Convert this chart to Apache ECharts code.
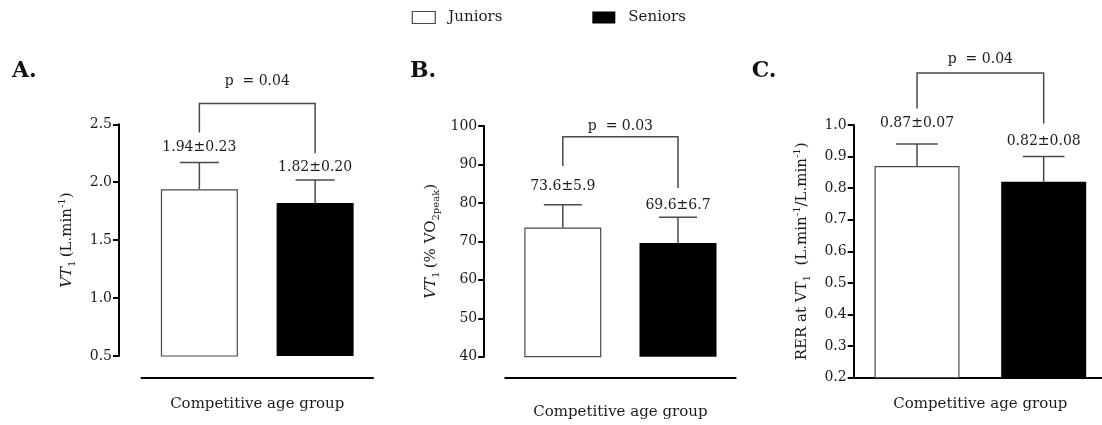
<!DOCTYPE html>
<html><head><meta charset="utf-8">
<script src="https://cdn.jsdelivr.net/npm/echarts@6/dist/echarts.min.js"></script>
<style>html,body{margin:0;padding:0;background:#fff}#c{width:1102px;height:425px}</style>
</head><body><div id="c"></div>
<script>
// ---- data ----
const categories = ['Juniors', 'Seniors'];
const panelLetters = ['A.', 'B.', 'C.'];
const vt1Mean = [1.94, 1.82];
const vt1Sd = [0.23, 0.20];
const vt1PctMean = [73.6, 69.6];
const vt1PctSd = [5.9, 6.7];
const rerMean = [0.87, 0.82];
const rerSd = [0.07, 0.08];
const pValues = ['0.04', '0.03', '0.04'];
const ticksA = [0.5, 1.0, 1.5, 2.0, 2.5];
const ticksB = [40, 50, 60, 70, 80, 90, 100];
const ticksC = [0.2, 0.3, 0.4, 0.5, 0.6, 0.7, 0.8, 0.9, 1.0];
// significance bracket levels: [top, left leg end, right leg end]
const bracketA = [2.68, 2.43, 2.25];
const bracketB = [97.2, 89.6, 83.9];
const bracketC = [1.165, 1.052, 1.005];
const xTitle = 'Competitive age group';

// ---- style ----
const FONT = 'DejaVu Serif';
const TXT = '#1c1c1c';
const LINE = '#4a4a4a';

const richBase = {
  n: {fontFamily: FONT, fontSize: 15, color: TXT, lineHeight: 20},
  i: {fontFamily: FONT, fontSize: 15, color: TXT, lineHeight: 20, fontStyle: 'italic'},
  sub: {fontFamily: FONT, fontSize: 10, color: TXT, lineHeight: 10, verticalAlign: 'bottom'},
  sup: {fontFamily: FONT, fontSize: 10, color: TXT, lineHeight: 10, verticalAlign: 'top'}
};

const panels = [
  {mean: vt1Mean, sd: vt1Sd, dec: 2, ticks: ticksA, bracket: bracketA, p: pValues[0], fmt: v => v.toFixed(1),
   grid: {left: 141.5, top: 124.3, width: 231.5, height: 231.7}, yOff: 22.5, xOff: 22, barW: 77, capHalf: 19.5,
   labelOff: [15, 13], pOff: 21.6, nameGapY: 42, nameGapX: 19,
   yName: '{i|VT}{sub|1} {n|(L.min}{sup|-1}{n|)}'},
  {mean: vt1PctMean, sd: vt1PctSd, dec: 1, ticks: ticksB, bracket: bracketB, p: pValues[1], fmt: v => String(Math.round(v)),
   grid: {left: 505.2, top: 126, width: 230.4, height: 230.7}, yOff: 21, xOff: 21.3, barW: 77, capHalf: 19,
   labelOff: [18, 12], pOff: 10.7, nameGapY: 42.6, nameGapX: 26.5,
   yName: '{i|VT}{sub|1} {n|(% VO}{sub|2peak}{n|)}'},
  {mean: rerMean, sd: rerSd, dec: 2, ticks: ticksC, bracket: bracketC, p: pValues[2], fmt: v => v.toFixed(1),
   grid: {left: 853.7, top: 125, width: 253.3, height: 252.7}, yOff: 0, xOff: 0, barW: 85, capHalf: 20.8,
   labelOff: [21, 15], pOff: 13.4, nameGapY: 41.6, nameGapX: 18.5,
   yName: '{n|RER at VT}{sub|1}{n|  (L.min}{sup|-1}{n|/L.min}{sup|-1}{n|)}'}
];
const letterLeft = [12, 410, 751.7];

function textStyle(txt, x, y) {
  return {type: 'text', x: x, y: y, z2: 10,
    style: {text: txt, fill: TXT, font: '14px "DejaVu Serif"', fontFamily: FONT, fontSize: 14,
      align: 'center', verticalAlign: 'middle', textAlign: 'center', textVerticalAlign: 'middle'}};
}

function makeErr(pc) {
  return function (params, api) {
    const i = params.dataIndex;
    const c = api.value(0), m = api.value(1), s = api.value(2);
    const a = api.coord([c, m]);
    const b = api.coord([c, m + s]);
    const st = {stroke: LINE, lineWidth: 1.5};
    return {type: 'group', children: [
      {type: 'line', shape: {x1: a[0], y1: a[1], x2: b[0], y2: b[1]}, style: st},
      {type: 'line', shape: {x1: b[0] - pc.capHalf, y1: b[1], x2: b[0] + pc.capHalf, y2: b[1]}, style: st},
      textStyle(m.toFixed(pc.dec) + '±' + s.toFixed(pc.dec), b[0], b[1] - pc.labelOff[i])
    ]};
  };
}

function makeBracket(pc) {
  return function (params, api) {
    const top = pc.bracket[0], l = pc.bracket[1], r = pc.bracket[2];
    const L0 = api.coord([0, l]), LT = api.coord([0, top]);
    const R0 = api.coord([1, r]), RT = api.coord([1, top]);
    return {type: 'group', children: [
      {type: 'polyline', shape: {points: [L0, LT, RT, R0]}, style: {stroke: LINE, lineWidth: 1.5, fill: null}},
      textStyle('p  = ' + pc.p, (LT[0] + RT[0]) / 2, LT[1] - pc.pOff)
    ]};
  };
}

const grids = [], xAxes = [], yAxes = [], series = [], titles = [];
panels.forEach((pc, k) => {
  grids.push(Object.assign({outerBoundsMode: 'none', containLabel: false}, pc.grid));
  const t = pc.ticks;
  const interval = Math.round((t[1] - t[0]) * 1e6) / 1e6;
  xAxes.push({gridIndex: k, type: 'category', data: categories, offset: pc.xOff,
    axisLine: {show: true, onZero: false, lineStyle: {color: '#000', width: 2}},
    axisTick: {show: false}, axisLabel: {show: false}, splitLine: {show: false},
    name: xTitle, nameLocation: 'middle', nameGap: pc.nameGapX,
    nameTextStyle: {fontFamily: FONT, fontSize: 15, color: TXT}});
  yAxes.push({gridIndex: k, type: 'value', min: t[0], max: t[t.length - 1], interval: interval, offset: pc.yOff,
    axisLine: {show: true, lineStyle: {color: '#000', width: 2}},
    axisTick: {show: true, length: 6, lineStyle: {color: '#000', width: 2}},
    axisLabel: {margin: 7, fontFamily: FONT, fontSize: 14, color: TXT, formatter: pc.fmt},
    splitLine: {show: false},
    name: pc.yName, nameLocation: 'middle', nameGap: pc.nameGapY, nameRotate: 90,
    nameTextStyle: {rich: richBase}});
  series.push({type: 'bar', name: categories[0], xAxisIndex: k, yAxisIndex: k,
    data: [pc.mean[0], '-'], barWidth: pc.barW, barGap: '-100%',
    itemStyle: {color: '#fff', borderColor: LINE, borderWidth: 1.2}, z: 2});
  series.push({type: 'bar', name: categories[1], xAxisIndex: k, yAxisIndex: k,
    data: ['-', pc.mean[1]], barWidth: pc.barW, barGap: '-100%',
    itemStyle: {color: '#000', borderColor: '#000', borderWidth: 0}, z: 2});
  series.push({type: 'custom', xAxisIndex: k, yAxisIndex: k, clip: false, z: 5, silent: true,
    data: [[0, pc.mean[0], pc.sd[0]], [1, pc.mean[1], pc.sd[1]]], renderItem: makeErr(pc)});
  series.push({type: 'custom', xAxisIndex: k, yAxisIndex: k, clip: false, z: 5, silent: true,
    data: [[0, pc.bracket[0]]], renderItem: makeBracket(pc)});
  titles.push({text: panelLetters[k], left: letterLeft[k], top: 60, padding: 0,
    textStyle: {fontFamily: FONT, fontSize: 22, fontWeight: 'bold', color: '#111'}});
});

const chart = echarts.init(document.getElementById('c'), null, {renderer: 'canvas'});
chart.setOption({
  backgroundColor: '#fff',
  animation: false,
  title: titles,
  legend: {left: 411.7, top: 10, padding: 0, itemWidth: 23, itemHeight: 12, itemGap: 90, icon: 'rect',
    selectedMode: false,
    textStyle: {fontFamily: FONT, fontSize: 15, color: TXT, padding: [0, 0, 0, 8]},
    data: [
      {name: 'Juniors', itemStyle: {color: '#fff', borderColor: LINE, borderWidth: 1.2}},
      {name: 'Seniors', itemStyle: {color: '#000', borderWidth: 0}}
    ]},
  grid: grids,
  xAxis: xAxes,
  yAxis: yAxes,
  series: series
});
</script></body></html>
